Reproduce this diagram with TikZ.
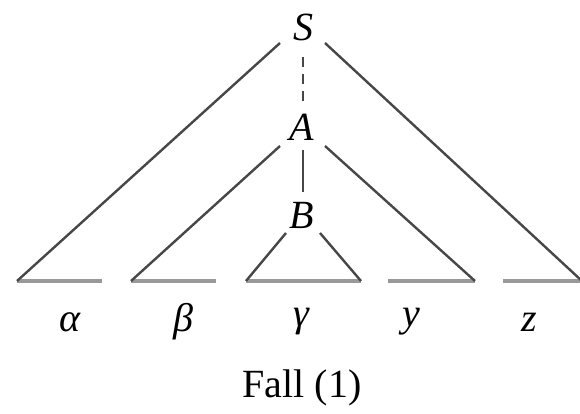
\documentclass[tikz,border=0pt]{standalone}
\usepackage{fontspec}
\setmainfont{Liberation Serif}
\begin{document}
\begin{tikzpicture}[x=1pt,y=-1pt,
  lbl/.style={inner sep=0pt, font=\fontsize{40}{42}\selectfont\itshape},
  captiontext/.style={inner sep=0pt, font=\fontsize{40}{42}\selectfont},
  edge/.style={draw=black!72, line width=2.4pt},
  base/.style={draw=black!40, line width=3.4pt},
  dashedge/.style={edge, dash pattern=on 10pt off 7pt}]
\useasboundingbox (0,0) rectangle (580,414);
\node[lbl] (S) at (303,27) {S};
\node[lbl] (A) at (302,127) {A};
\node[lbl] (B) at (302,215) {B};
% endpoints
\coordinate (Sl) at (280,43);
\coordinate (Sr) at (325,43);
\coordinate (Al) at (280,146);
\coordinate (Ar) at (325,146);
\coordinate (Bl) at (286,233);
\coordinate (Br) at (320,233);
\coordinate (Sd1) at (303,57);
\coordinate (Sd2) at (303,107);
\coordinate (Ab1) at (303,150);
\coordinate (Ab2) at (303,192);
\coordinate (a1) at (17,281); \coordinate (a2) at (102,281);
\coordinate (b1) at (131,281); \coordinate (b2) at (216,281);
\coordinate (c1) at (246,281); \coordinate (c2) at (361,281);
\coordinate (d1) at (388,281); \coordinate (d2) at (475,281);
\coordinate (e1) at (503,281); \coordinate (e2) at (582,281);
\draw[base] (a1) -- (a2);
\draw[base] (b1) -- (b2);
\draw[base] (c1) -- (c2);
\draw[base] (d1) -- (d2);
\draw[base] (e1) -- (e2);
\draw[edge] (Sl) -- (a1);
\draw[edge] (Sr) -- (e2);
\draw[edge] (Al) -- (b1);
\draw[edge] (Ar) -- (d2);
\draw[edge] (Bl) -- (c1);
\draw[edge] (Br) -- (c2);
\draw[dashedge] (Sd1) -- (Sd2);
\draw[edge] (Ab1) -- (Ab2);
\node[lbl] (la) at (70,322) {α};
\node[lbl] (lb) at (183,322) {β};
\node[lbl] (lc) at (301,322) {γ};
\node[lbl] (ld) at (411,322) {y};
\node[lbl] (le) at (529,322) {z};
\node[captiontext] (F) at (302,388) {Fall (1)};
\end{tikzpicture}
\end{document}
